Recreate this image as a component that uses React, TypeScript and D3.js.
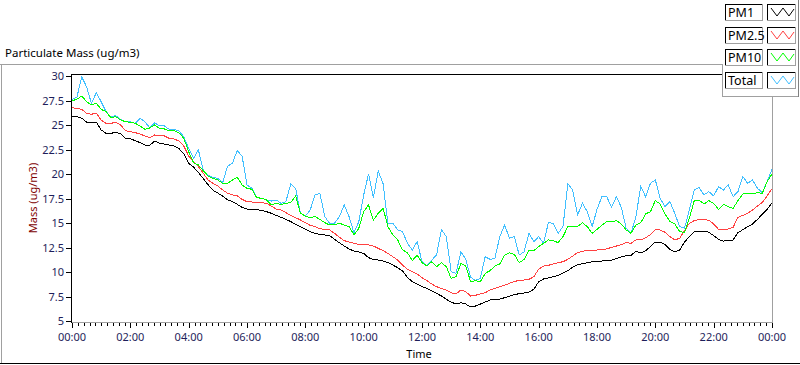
import React from "react";
import * as d3 from "d3";

// ---- data (10-minute samples from 00:00 to 24:00) ----
const STEP_MIN = 10;

const pm1 = [
  25.9, 25.85, 25.7, 25.3, 25.25, 25.3, 24.5, 24.15, 24.15, 24.25, 24.1, 23.65, 23.6, 23.4, 23.2, 22.95, 22.95, 23.35, 23.15, 23.05, 22.95, 22.85, 22.6, 22.05, 21.1, 20.7, 20.15, 19.55, 18.9, 18.35, 18.05, 17.75, 17.35, 17.2, 16.9, 16.6,
  16.43, 16.39, 16.36, 16.29, 16.16, 15.99, 15.78, 15.58, 15.37, 15.14, 14.86, 14.63, 14.35, 14.12, 13.95, 13.81, 13.78, 13.71, 13.33, 12.99, 12.65, 12.35, 12.14, 12.04, 11.9, 11.46, 11.29, 11.22, 11.12, 10.95, 10.71, 10.44, 10.1, 9.46, 9.01, 8.78,
  8.5, 8.33, 8.06, 7.82, 7.55, 7.21, 6.94, 6.73, 6.87, 6.73, 6.43, 6.53, 6.73, 6.94, 7.14, 7.21, 7.24, 7.38, 7.52, 7.69, 7.79, 7.86, 7.96, 8.23, 9.01, 9.29, 9.39, 9.52, 9.66, 9.9, 10.14, 10.48, 10.75, 10.85, 10.95, 11.05,
  11.05, 11.12, 11.16, 11.22, 11.36, 11.53, 11.67, 11.7, 12.11, 11.94, 12.18, 12.59, 13.06, 13.03, 12.82, 12.28, 12.07, 12.24, 13.06, 13.61, 14.12, 14.18, 14.18, 14.05, 13.71, 13.33, 13.16, 13.2, 13.27, 14.01, 14.32, 14.63, 14.9, 15.37, 15.88, 16.39, 17.07,
];

const pm25 = [
  26.77, 26.7, 26.6, 26.2, 26.1, 26.2, 25.5, 25.17, 25.17, 25.27, 25.0, 24.42, 24.32, 24.22, 24.08, 23.88, 23.7, 23.98, 23.88, 23.88, 23.64, 23.57, 23.37, 22.86, 21.84, 21.26, 20.75, 20.07, 19.39, 19.05, 18.78, 18.37, 18.03, 17.86, 17.76, 17.41,
  17.18, 17.14, 17.11, 17.07, 17.01, 16.73, 16.43, 16.33, 16.05, 15.78, 15.54, 15.31, 15.03, 14.76, 14.63, 14.42, 14.35, 14.29, 13.95, 13.54, 13.2, 13.06, 12.93, 12.82, 12.79, 12.76, 12.65, 12.41, 12.18, 11.9, 11.56, 11.22, 10.71, 10.27, 10.03, 9.8,
  9.42, 9.12, 8.78, 8.5, 8.33, 8.16, 7.89, 7.76, 8.16, 7.99, 7.55, 7.62, 7.76, 7.89, 8.16, 8.33, 8.5, 8.67, 8.84, 9.05, 9.12, 9.18, 9.25, 9.52, 10.27, 10.61, 10.68, 10.82, 10.95, 11.05, 11.29, 11.63, 11.97, 12.11, 12.24, 12.24,
  12.24, 12.31, 12.35, 12.52, 12.65, 12.79, 12.99, 12.93, 13.27, 13.27, 13.5, 13.81, 14.35, 14.29, 14.05, 13.61, 13.27, 13.44, 14.22, 14.97, 15.24, 15.34, 15.37, 15.27, 14.9, 14.35, 14.29, 14.39, 14.56, 15.58, 15.78, 15.99, 16.33, 16.73, 17.11, 17.76, 18.5,
];

const pm10 = [
  27.48, 27.62, 27.96, 27.38, 27.04, 27.21, 26.6, 26.36, 25.75, 25.85, 25.51, 25.34, 25.27, 25.17, 24.9, 24.56, 24.7, 25.0, 24.66, 24.6, 24.39, 24.42, 24.22, 23.64, 22.28, 21.16, 20.92, 20.34, 19.8, 19.56, 19.39, 19.05, 19.05, 19.39, 19.66, 18.88,
  18.54, 18.44, 17.59, 17.52, 17.35, 16.84, 17.01, 16.9, 17.01, 17.07, 17.76, 15.99, 15.71, 15.54, 15.65, 15.37, 15.03, 14.8, 14.8, 14.97, 14.8, 14.63, 13.78, 14.46, 16.16, 16.84, 15.31, 15.99, 16.5, 14.63, 13.78, 13.27, 12.25, 11.97, 11.16, 11.73,
  10.95, 10.61, 11.05, 10.54, 10.95, 10.54, 9.35, 9.52, 10.88, 10.61, 9.01, 9.12, 9.01, 9.86, 10.14, 10.61, 10.82, 11.73, 11.97, 11.8, 10.95, 11.29, 12.18, 12.18, 12.59, 12.93, 13.27, 13.2, 12.99, 13.61, 14.63, 14.69, 14.63, 15.03, 14.63, 13.95,
  14.35, 14.76, 15.14, 15.14, 15.24, 14.9, 14.29, 13.95, 14.8, 15.03, 15.92, 16.16, 17.28, 16.94, 15.92, 15.14, 14.9, 14.15, 14.01, 15.48, 17.28, 17.35, 16.94, 17.28, 17.01, 16.39, 16.9, 16.67, 16.5, 17.28, 17.96, 18.03, 17.96, 18.1, 18.03, 19.22, 20.0,
];

const total = [
  27.62, 27.82, 29.9, 28.9, 27.2, 28.3, 27.38, 26.36, 25.85, 25.95, 25.58, 25.34, 25.34, 25.17, 25.68, 25.34, 24.7, 25.24, 24.9, 24.9, 24.56, 24.56, 24.39, 23.8, 22.6, 21.6, 22.45, 20.4, 19.9, 19.66, 19.56, 19.12, 20.8, 21.1, 22.4, 21.8,
  18.88, 18.54, 17.59, 17.52, 17.35, 17.24, 17.35, 17.01, 17.18, 18.98, 18.54, 15.99, 15.71, 16.33, 17.86, 18.03, 15.65, 14.97, 14.97, 15.65, 16.84, 15.65, 14.01, 15.14, 17.86, 20.0, 17.6, 20.3, 19.0, 14.9, 14.97, 14.29, 14.12, 12.93, 12.25, 13.1,
  11.05, 10.65, 11.22, 11.73, 14.35, 13.61, 10.03, 9.86, 12.07, 11.29, 9.46, 9.15, 9.35, 11.56, 11.29, 11.39, 13.61, 14.8, 13.44, 13.61, 11.73, 12.07, 13.95, 13.1, 13.61, 12.93, 15.03, 14.97, 13.95, 14.63, 19.0, 18.37, 15.82, 17.01, 16.16, 14.63,
  16.39, 17.69, 17.69, 16.6, 17.69, 16.6, 14.46, 13.95, 15.65, 18.71, 17.69, 19.05, 19.4, 17.52, 16.67, 17.18, 15.99, 14.63, 14.46, 16.33, 18.37, 18.64, 17.86, 18.2, 17.76, 18.71, 18.37, 18.88, 17.69, 18.2, 19.73, 19.05, 19.39, 18.54, 18.1, 19.22, 20.48,
];

const seriesNames = ["PM1", "PM2.5", "PM10", "Total"];
const yTicks = [5, 7.5, 10, 12.5, 15, 17.5, 20, 22.5, 25, 27.5, 30];
const xTickHours = [0, 2, 4, 6, 8, 10, 12, 14, 16, 18, 20, 22, 24];
const xTickLabels = ["00:00", "02:00", "04:00", "06:00", "08:00", "10:00", "12:00", "14:00", "16:00", "18:00", "20:00", "22:00", "00:00"];
const MINOR_PER_MAJOR = 10;

const titleText = "Particulate Mass (ug/m3)";
const yAxisTitle = "Mass (ug/m3)";
const xAxisTitle = "Time";

// ---- styles ----
const COLORS = ["#000000", "#ff4040", "#00ff00", "#40bfff"];
const FONT = "'Noto Sans', 'DejaVu Sans', sans-serif";
const TICK_COLOR = "#1e1e5a";

export default function App() {
  const W = 800, H = 365;
  const left = 72, right = 772, top = 75, bottom = 322;
  const x = d3.scaleLinear().domain([0, 24 * 60]).range([left, right]);
  const y = d3.scaleLinear().domain([5, 30]).range([321, 76]);

  const seriesData = [pm1, pm25, pm10, total];
  const line = d3
    .line<number>()
    .x((_, i) => x(i * STEP_MIN))
    .y((d) => y(d))
    .curve(d3.curveLinear);

  const minorTicks: number[] = [];
  for (let h = 0; h < 24; h += 2) {
    for (let j = 1; j < MINOR_PER_MAJOR; j++) minorTicks.push(h * 60 + (j * 120) / MINOR_PER_MAJOR);
  }

  const drawOrder = [0, 1, 3, 2];

  const legendRowTop = (i: number) => 4 + i * 22.6;

  return (
    <div style={{ position: "fixed", left: 0, top: 0, width: W, height: H, background: "#fff" }}>
      <svg width={W} height={H} style={{ display: "block", fontFamily: FONT }}>
        <rect x={0} y={0} width={W} height={H} fill="#fff" />
        {/* panel frame */}
        <line x1={0} x2={722} y1={64.5} y2={64.5} stroke="#a0a0a0" />
        <line x1={1.5} x2={1.5} y1={64} y2={363} stroke="#a0a0a0" />
        <line x1={0} x2={800} y1={363.5} y2={363.5} stroke="#000" />
        <text x={5} y={57} fontSize={11.5} fill="#000">{titleText}</text>

        {/* plot area frame */}
        <line x1={71.5} x2={71.5} y1={74} y2={323} stroke="#000" />
        <line x1={71} x2={722} y1={74.5} y2={74.5} stroke="#000" />
        <line x1={772.5} x2={772.5} y1={97} y2={323} stroke="#a0a0a0" />
        <line x1={72} x2={773} y1={322.5} y2={322.5} stroke="#a0a0a0" />

        {/* series */}
        <g clipPath="url(#plotclip)">
          <defs>
            <clipPath id="plotclip">
              <rect x={72} y={75} width={700} height={247} />
            </clipPath>
          </defs>
          {drawOrder.map((si) => (
            <path
              key={si}
              d={line(seriesData[si]) || ""}
              fill="none"
              stroke={COLORS[si]}
              strokeWidth={1}
              shapeRendering="crispEdges"
            />
          ))}
        </g>

        {/* y axis */}
        {yTicks.map((t) => (
          <g key={t}>
            <line x1={66} x2={71} y1={Math.round(y(t)) + 0.5} y2={Math.round(y(t)) + 0.5} stroke="#000" />
            <text x={64} y={Math.round(y(t)) + 0.5} dy="0.35em" textAnchor="end" fontSize={11} fill={TICK_COLOR}>
              {String(t)}
            </text>
          </g>
        ))}
        <text
          transform={`translate(37,198) rotate(-90)`}
          textAnchor="middle"
          fontSize={11}
          fill="#800000"
        >
          {yAxisTitle}
        </text>

        {/* x axis */}
        {minorTicks.map((m) => (
          <line key={"m" + m} x1={Math.round(x(m)) + 0.5} x2={Math.round(x(m)) + 0.5} y1={323} y2={326} stroke="#000" />
        ))}
        {xTickHours.map((h, i) => (
          <g key={"M" + i}>
            <line x1={Math.round(x(h * 60)) + 0.5} x2={Math.round(x(h * 60)) + 0.5} y1={323} y2={328} stroke="#000" />
            <text x={x(h * 60)} y={341} textAnchor="middle" fontSize={11} fill={TICK_COLOR}>
              {xTickLabels[i]}
            </text>
          </g>
        ))}
        <text x={419} y={358} textAnchor="middle" fontSize={11} fill="#000">{xAxisTitle}</text>

        {/* legend */}
        <line x1={722.5} x2={722.5} y1={64} y2={97} stroke="#a0a0a0" />
        <line x1={722} x2={799} y1={96.5} y2={96.5} stroke="#a0a0a0" />
        <line x1={798.5} x2={798.5} y1={0} y2={97} stroke="#808080" />
        {seriesNames.map((name, i) => {
          const ty = legendRowTop(i);
          const yy = Math.round(ty);
          return (
            <g key={name}>
              <rect x={725.5} y={yy + 0.5} width={37} height={16} fill="#fff" stroke="#000" />
              <line x1={725} x2={763} y1={yy + 16.5} y2={yy + 16.5} stroke="#a0a0a0" />
              <line x1={762.5} x2={762.5} y1={yy} y2={yy + 17} stroke="#a0a0a0" />
              <text x={728} y={yy + 13} fontSize={12.5} fill="#000">{name}</text>
              <rect x={767.5} y={yy + 0.5} width={28} height={16} fill="#fff" stroke="#000" />
              <line x1={767} x2={796} y1={yy + 16.5} y2={yy + 16.5} stroke="#a0a0a0" />
              <line x1={795.5} x2={795.5} y1={yy} y2={yy + 17} stroke="#a0a0a0" />
              <polyline
                points={`${771},${yy + 4} ${777},${yy + 12} ${783},${yy + 4} ${789},${yy + 12} ${794},${yy + 5}`}
                fill="none"
                stroke={COLORS[i]}
                strokeWidth={1}
              />
            </g>
          );
        })}
      </svg>
    </div>
  );
}
